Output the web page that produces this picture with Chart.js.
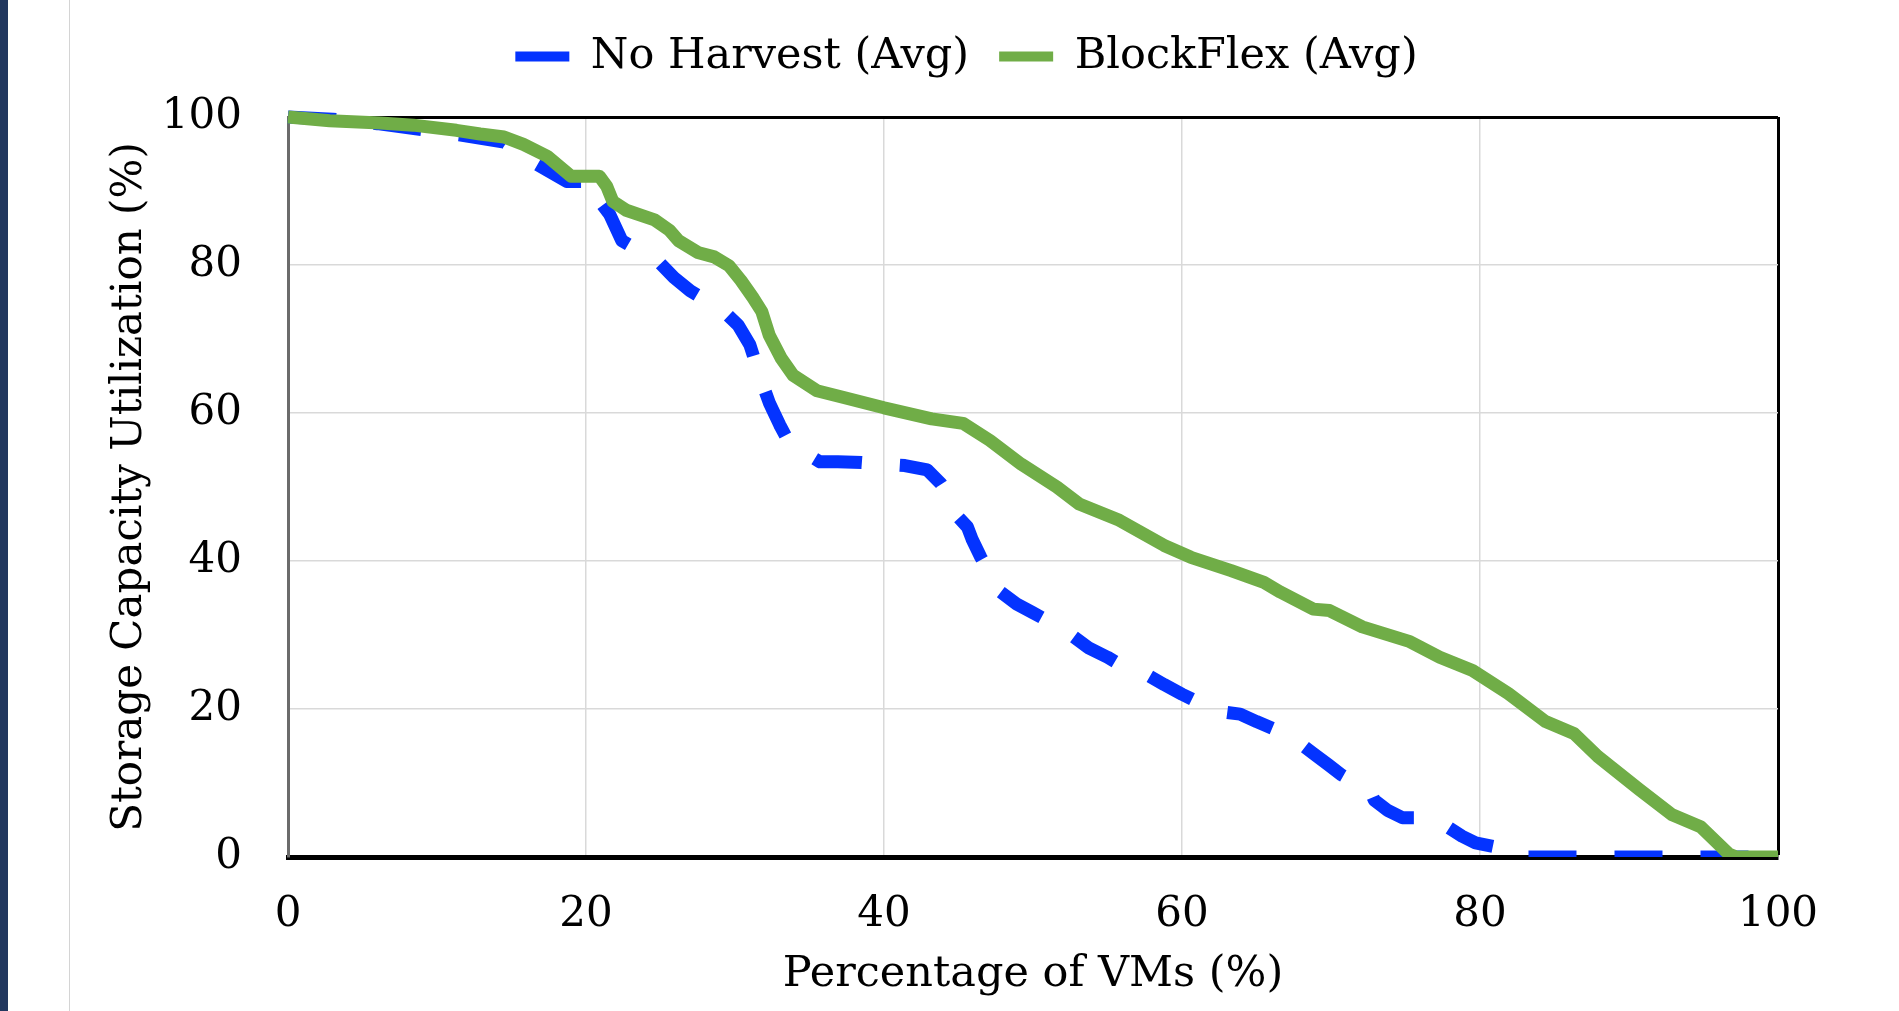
<!DOCTYPE html>
<html lang="en">
<head>
    <meta charset="UTF-8">
    <title>Storage Capacity Utilization</title>
    <script src="https://cdn.jsdelivr.net/npm/chart.js"></script>
    <style>
        html, body { margin: 0; padding: 0; background: #fff; }
        #page { position: relative; width: 1899px; height: 1011px; overflow: hidden; }
        #side-bar { position: absolute; left: 0; top: 0; width: 8px; height: 100%; background: #22385f; }
        #side-line { position: absolute; left: 69px; top: 0; width: 1px; height: 100%; background: #d4d4d4; }
        #chart-box { position: absolute; left: 0; top: 0; width: 1899px; height: 1011px; }
    </style>
</head>
<body>
    <div id="page">
        <div id="side-bar"></div>
        <div id="side-line"></div>
        <div id="chart-box">
            <canvas id="util-chart"></canvas>
        </div>
    </div>

    <script>
        // values (x = % of VMs, y = utilization %)
        var noHarvestX = [0, 3, 6, 9, 11.5, 14.5, 16.7, 18.7, 20.5, 21, 21.6, 22.4, 23.5, 24.7, 25.9, 27, 28, 29.1, 30.2, 31,
            31.8, 32.3, 33, 33.5, 34.2, 35.7, 36.9, 38.5, 39.8, 41.4, 42.9, 43.8, 44.4, 45, 45.6, 45.9, 46.5, 47, 47.7, 48.9,
            50, 51.2, 52.5, 53.7, 55, 56, 57.6, 58.8, 60, 60.9, 62.4, 63.9, 65, 66.3, 67.5, 68.8, 69.8, 70.7, 71.5, 72.6,
            72.9, 73.8, 74.8, 76.7, 77.8, 78.8, 79.7, 81.4, 82.2, 83, 100];
        var noHarvestY = [100, 99.7, 99.1, 98.3, 97.6, 96.6, 93.6, 91.3, 91.3, 88.4, 86.8, 83.3, 82, 80.8, 78.3, 76.5, 75.3, 74, 71.9, 69.2,
            64.2, 61.4, 58.4, 56.5, 55.2, 53.4, 53.4, 53.3, 53.1, 52.9, 52.3, 50.5, 48.6, 45.9, 44.6, 43, 40.5, 38.7, 36, 34.2,
            33, 31.7, 30.1, 28.3, 27, 25.8, 24.7, 23.3, 22, 21.1, 19.7, 19.3, 18.3, 17.2, 16, 14, 12.5, 11.1, 10.2, 9.1,
            7.7, 6.3, 5.3, 5.3, 4.1, 2.8, 1.9, 1.2, 0.2, 0, 0];

        var blockFlexX = [0, 2.8, 6.2, 8.4, 11.3, 12.9, 14.5, 15.8, 17.4, 19, 20.9, 21.4, 21.8, 22.7, 24.6, 25.6, 26.2, 27.5, 28.6, 29.6,
            30.4, 31.2, 31.8, 32.3, 33.1, 33.9, 35.5, 37.3, 40, 43.2, 45.3, 47.1, 49.2, 51.6, 53.1, 55.8, 58.8, 60.6, 63.3, 65.5,
            66.6, 68.8, 69.9, 72.1, 75.3, 77.3, 79.5, 81.9, 84.4, 86.3, 87.9, 90.7, 92.9, 94.8, 96.7, 97.2, 100];
        var blockFlexY = [100, 99.5, 99.2, 98.9, 98.2, 97.7, 97.3, 96.3, 94.7, 92, 92, 90.6, 88.6, 87.4, 86.1, 84.7, 83.3, 81.7, 81.1, 79.9,
            77.9, 75.6, 73.7, 70.5, 67.4, 65.1, 63, 62.1, 60.7, 59.2, 58.6, 56.3, 53.1, 50, 47.7, 45.5, 42.1, 40.5, 38.7, 37.1,
            35.8, 33.5, 33.3, 31.1, 29.1, 27, 25.2, 22.1, 18.3, 16.7, 13.6, 9.1, 5.7, 4.1, 0.4, 0, 0];

        var seriesNames = ['No Harvest (Avg)', 'BlockFlex (Avg)'];

        function toPoints(xs, ys) {
            return xs.map(function(x, i) { return { x: x, y: ys[i] }; });
        }

        var serif = "'DejaVu Serif', serif";
        Chart.defaults.font.family = serif;
        Chart.defaults.color = '#000';

        // lines may spill over the top/sides a little, but not below the x axis
        var lineClip = { left: 8, right: 8, top: 8, bottom: 0 };
        var rightPad = 46;

        var ctx = document.getElementById('util-chart').getContext('2d');
        var utilChart = new Chart(ctx, {
            type: 'line',
            data: {
                datasets: [{
                    label: seriesNames[0],
                    data: toPoints(noHarvestX, noHarvestY),
                    borderColor: '#0433ff',
                    backgroundColor: '#0433ff',
                    borderWidth: 13,
                    borderDash: [48, 38],
                    borderCapStyle: 'butt',
                    borderJoinStyle: 'round',
                    pointRadius: 0,
                    tension: 0,
                    clip: lineClip,
                    order: 1
                }, {
                    label: seriesNames[1],
                    data: toPoints(blockFlexX, blockFlexY),
                    borderColor: '#70ad47',
                    backgroundColor: '#70ad47',
                    borderWidth: 13,
                    borderJoinStyle: 'round',
                    pointRadius: 0,
                    tension: 0,
                    clip: lineClip,
                    order: 0
                }]
            },
            options: {
                responsive: true,
                maintainAspectRatio: false,
                animation: false,
                layout: {
                    padding: { left: 80, right: rightPad, top: 5, bottom: 0 }
                },
                plugins: {
                    tooltip: { enabled: false },
                    legend: {
                        position: 'top',
                        labels: {
                            font: { size: 43 },
                            boxWidth: 54,
                            boxHeight: 10,
                            padding: 30,
                            sort: function(a, b) { return a.datasetIndex - b.datasetIndex; },
                            generateLabels: function(chart) {
                                var items = Chart.defaults.plugins.legend.labels.generateLabels(chart);
                                items.forEach(function(it) {
                                    it.lineWidth = 0;
                                    it.lineDash = [];
                                });
                                return items;
                            }
                        }
                    },
                    // empty spacer between legend and plot
                    subtitle: {
                        display: true,
                        text: '',
                        weight: 500,
                        font: { size: 10, lineHeight: 1 },
                        padding: { top: 0, bottom: 19 }
                    }
                },
                scales: {
                    x: {
                        type: 'linear',
                        min: 0,
                        max: 100,
                        afterFit: function(s) { s.height = 154; },
                        ticks: {
                            stepSize: 20,
                            padding: 33,
                            font: { size: 42 }
                        },
                        grid: {
                            drawTicks: false,
                            color: function(c) { return c.tick && c.tick.value === 100 ? '#000' : '#d9d9d9'; },
                            lineWidth: function(c) { return c.tick && c.tick.value === 100 ? 3 : 1.5; }
                        },
                        border: { display: true, color: '#000', width: 5 },
                        title: {
                            display: true,
                            text: 'Percentage of VMs (%)',
                            font: { size: 43, lineHeight: 1.2 },
                            padding: { top: 0, bottom: 10 }
                        }
                    },
                    y: {
                        type: 'linear',
                        min: 0,
                        max: 100,
                        afterFit: function(s) { s.width = 208; },
                        ticks: {
                            stepSize: 20,
                            padding: 46,
                            font: { size: 42 }
                        },
                        grid: {
                            drawTicks: false,
                            color: function(c) {
                                if (c.tick && c.tick.value === 100) return '#000';
                                if (c.tick && c.tick.value === 0) return '#000';
                                return '#d9d9d9';
                            },
                            lineWidth: function(c) { return c.tick && c.tick.value === 100 ? 3 : 1.5; }
                        },
                        border: { display: true, color: '#6b6b6b', width: 3 },
                        title: {
                            display: true,
                            text: 'Storage Capacity Utilization (%)',
                            font: { size: 42, lineHeight: 1.2 },
                            padding: { top: 25, bottom: 0 }
                        }
                    },
                    // blank box on the right to keep the plot where it is
                    yRight: {
                        type: 'linear',
                        position: 'right',
                        afterFit: function(s) { s.width = 1899 - rightPad - 1778; },
                        ticks: { display: false },
                        grid: { display: false },
                        border: { display: false }
                    }
                }
            }
        });
    </script>
</body>
</html>
